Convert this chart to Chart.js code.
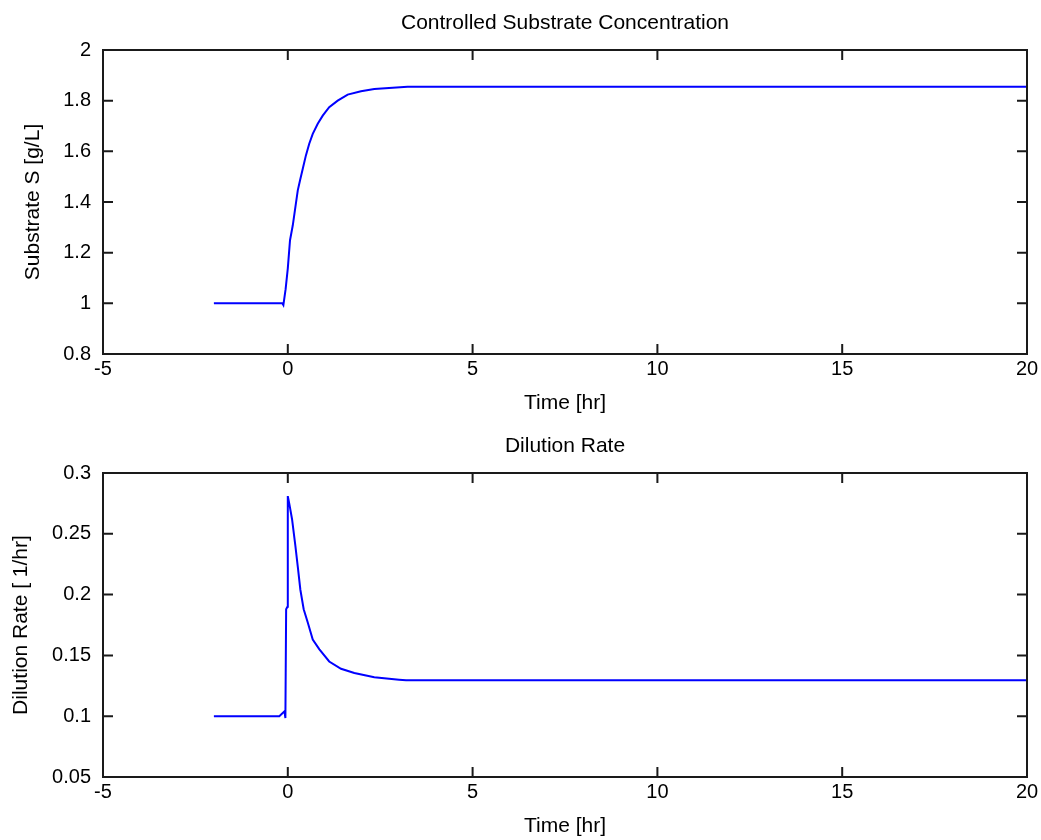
<!DOCTYPE html>
<html>
<head>
<meta charset="utf-8">
<title>Substrate / Dilution Rate</title>
<script src="https://cdn.jsdelivr.net/npm/chart.js@4.4.1/dist/chart.umd.min.js"></script>
<style>
	body{ margin:0; background:#fff; }
	.plot{ position:absolute; left:0; width:1041px; height:420px; }
</style>
</head>
<body>
<div class="plot" style="top:0px;"><canvas id="chartS" width="1041" height="420"></canvas></div>
<div class="plot" style="top:420px;"><canvas id="chartD" width="1041" height="420"></canvas></div>
<script>
// substrate S [g/L] vs time [hr]
var timeS = [-2, -0.15, -0.12, -0.06, 0, 0.06, 0.135, 0.205, 0.27, 0.33, 0.405, 0.49, 0.58, 0.675, 0.81, 0.945, 1.12, 1.35, 1.62, 1.98, 2.34, 3.24, 20];
var substrate = [1.0, 1.0, 0.993, 1.055, 1.138, 1.249, 1.308, 1.38, 1.446, 1.485, 1.531, 1.584, 1.63, 1.669, 1.709, 1.741, 1.774, 1.80, 1.824, 1.837, 1.846, 1.855, 1.855];

// dilution rate [1/hr] vs time [hr]
var timeD = [-2, -0.23, -0.09, -0.065, -0.045, -0.01, 0, 0.045, 0.115, 0.205, 0.27, 0.34, 0.43, 0.54, 0.675, 0.855, 1.12, 1.44, 1.8, 2.34, 3.01, 3.2, 20];
var dilution = [0.1, 0.1, 0.104, 0.0985, 0.188, 0.19, 0.281, 0.274, 0.262, 0.24, 0.223, 0.204, 0.188, 0.177, 0.163, 0.155, 0.145, 0.139, 0.1355, 0.132, 0.130, 0.1295, 0.1295];

// axis ticks
var xTicks = [-5, 0, 5, 10, 15, 20];
var sTicks = [0.8, 1, 1.2, 1.4, 1.6, 1.8, 2];
var dTicks = [0.05, 0.1, 0.15, 0.2, 0.25, 0.3];

var FONT = "'Liberation Sans', Arial, Helvetica, sans-serif";

// matlab style box with inward ticks on all four sides
var boxPlugin = {
	id: 'matlabBox',
	afterDraw: function(chart){
		var ctx = chart.ctx;
		var a = chart.chartArea;
		var len = 10;
		ctx.save();
		ctx.strokeStyle = '#1a1a1a';
		ctx.lineWidth = 2;
		ctx.strokeRect(a.left, a.top, a.right - a.left, a.bottom - a.top);
		chart.scales.x.ticks.forEach(function(t){
			var px = chart.scales.x.getPixelForValue(t.value);
			ctx.beginPath();
			ctx.moveTo(px, a.bottom); ctx.lineTo(px, a.bottom - len);
			ctx.moveTo(px, a.top); ctx.lineTo(px, a.top + len);
			ctx.stroke();
		});
		chart.scales.y.ticks.forEach(function(t){
			var py = chart.scales.y.getPixelForValue(t.value);
			ctx.beginPath();
			ctx.moveTo(a.left, py); ctx.lineTo(a.left + len, py);
			ctx.moveTo(a.right, py); ctx.lineTo(a.right - len, py);
			ctx.stroke();
		});
		ctx.restore();
	}
};

function toPoints(xs, ys){
	var pts = new Array();
	for(var i = 0; i < xs.length; i++){
		pts.push({x: xs[i], y: ys[i]});
	}
	return pts;
}

function fixedTicks(list){
	return function(scale){
		scale.ticks = list.map(function(v){ return {value: v}; });
	};
}

function drawPlot(id, prop){
	var ctx = document.getElementById(id).getContext('2d');
	return new Chart(ctx, {
		type: 'line',
		data: {
			datasets: [{
				data: toPoints(prop.xs, prop.ys),
				borderColor: '#0000ff',
				borderWidth: 2,
				pointRadius: 0,
				tension: 0,
				fill: false
			}]
		},
		options: {
			responsive: false,
			animation: false,
			devicePixelRatio: 1,
			layout: { padding: { left: 0, right: 14, top: 0, bottom: 0 } },
			plugins: {
				legend: { display: false },
				tooltip: { enabled: false },
				title: { display: false }
			},
			scales: {
				// empty top axis only carries the plot title, centred on the axes box
				xTop: {
					type: 'linear',
					position: 'top',
					min: -5, max: 20,
					afterFit: function(scale){ scale.height = prop.topHeight; },
					grid: { display: false },
					border: { display: false },
					ticks: { display: false },
					title: {
						display: true,
						text: prop.title,
						color: '#000',
						font: { family: FONT, size: 21 },
						padding: { top: prop.titleTop, bottom: 0 }
					}
				},
				x: {
					type: 'linear',
					position: 'bottom',
					min: -5, max: 20,
					afterBuildTicks: fixedTicks(xTicks),
					afterFit: function(scale){ scale.height = prop.xHeight; },
					grid: { display: false },
					border: { display: false },
					ticks: {
						color: '#000',
						padding: -5,
						maxRotation: 0,
						font: { family: FONT, size: 20 },
						callback: function(v){ return String(v); }
					},
					title: {
						display: true,
						text: 'Time [hr]',
						color: '#000',
						font: { family: FONT, size: 21 },
						padding: { top: 0, bottom: prop.xTitleBottom }
					}
				},
				y: {
					type: 'linear',
					min: prop.yTicks[0], max: prop.yTicks[prop.yTicks.length - 1],
					afterBuildTicks: fixedTicks(prop.yTicks),
					afterFit: function(scale){ scale.width = 103; },
					grid: { display: false },
					border: { display: false },
					ticks: {
						color: '#000',
						padding: 4,
						font: { family: FONT, size: 20 },
						callback: function(v){ return String(parseFloat(v.toFixed(3))); }
					},
					title: {
						display: true,
						text: prop.yLabel,
						color: '#000',
						font: { family: FONT, size: 21 },
						padding: { top: prop.yTitlePad, bottom: 0 }
					}
				}
			}
		},
		plugins: [boxPlugin]
	});
}

drawPlot('chartS', {
	xs: timeS, ys: substrate, yTicks: sTicks,
	title: 'Controlled Substrate Concentration',
	yLabel: 'Substrate S [g/L]',
	topHeight: 50, titleTop: 11,
	xHeight: 66, xTitleBottom: 4, yTitlePad: 21
});

drawPlot('chartD', {
	xs: timeD, ys: dilution, yTicks: dTicks,
	title: 'Dilution Rate',
	yLabel: 'Dilution Rate [ 1/hr]',
	topHeight: 53, titleTop: 14,
	xHeight: 63, xTitleBottom: 1, yTitlePad: 9
});
</script>
</body>
</html>
